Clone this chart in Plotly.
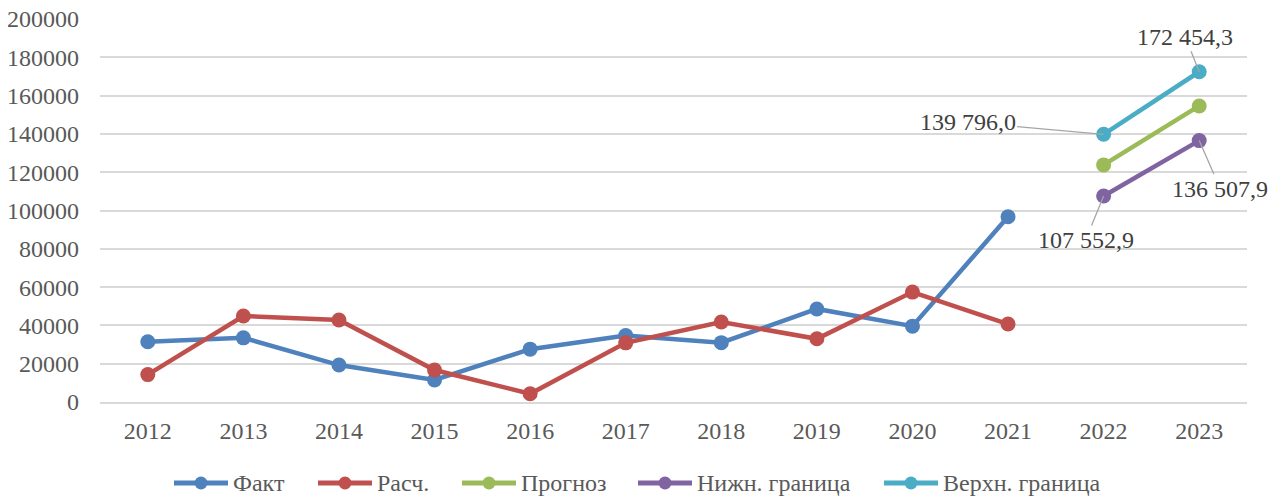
import plotly.graph_objects as go

years = ['2012', '2013', '2014', '2015', '2016', '2017', '2018', '2019', '2020', '2021', '2022', '2023']

fact = [31500, 33500, 19300, 11500, 27600, 34700, 31000, 48600, 39600, 96700, None, None]
calc = [14300, 44900, 42800, 16700, 4300, 30900, 41800, 33000, 57400, 40700, None, None]
forecast = [None] * 10 + [123800, 154600]
lower = [None] * 10 + [107552.9, 136507.9]
upper = [None] * 10 + [139796.0, 172454.3]

names = ['Факт', 'Расч.', 'Прогноз', 'Нижн. граница', 'Верхн. граница']
colors = ['#4F81BD', '#C0504D', '#9BBB59', '#8064A2', '#4BACC6']
values = [fact, calc, forecast, lower, upper]

FONT = 'Liberation Serif, Times New Roman, serif'

# размеры фигуры и поля (страница добавляет 8px отступа сверху и слева)
W, H = 1261, 490
L, R, T, B = 92, 22, 11, 96
PW, PH = W - L - R, H - T - B

fig = go.Figure()
for name, vals, col in zip(names, values, colors):
    fig.add_trace(go.Scatter(
        x=years, y=vals, name=name, mode='lines+markers',
        line=dict(color=col, width=4.5),
        marker=dict(color=col, size=15),
        connectgaps=False, showlegend=False,
    ))

def fmt(v):
    return f'{v:,.1f}'.replace(',', ' ').replace('.', ',')

# подписи с выносками: (индекс года, значение, смещение x, смещение y)
labels = [
    (11, upper[11], -14, -35),
    (10, upper[10], -136, -12),
    (11, lower[11], 21, 48),
    (10, lower[10], -18, 44),
]
for i, v, ax, ay in labels:
    fig.add_annotation(
        x=i, y=v, text=fmt(v), showarrow=True, arrowhead=0,
        arrowwidth=1.3, arrowcolor='#A6A6A6', ax=ax, ay=ay,
        font=dict(family=FONT, size=24, color='#404040'),
    )

# легенда вручную: центр значка (px от левого края области), длинная линия как в Excel
legend_px = [101, 245, 389, 565, 811]
legend_y = -81 / PH
for name, col, px in zip(names, colors, legend_px):
    xa = px / PW
    fig.add_shape(type='line', xref='paper', yref='paper', xsizemode='pixel', ysizemode='pixel',
                  xanchor=xa, yanchor=legend_y, x0=-27, x1=27, y0=0, y1=0,
                  line=dict(color=col, width=5))
    fig.add_shape(type='circle', xref='paper', yref='paper', xsizemode='pixel', ysizemode='pixel',
                  xanchor=xa, yanchor=legend_y, x0=-6.5, x1=6.5, y0=-6.5, y1=6.5,
                  fillcolor=col, line=dict(color=col, width=0))
    fig.add_annotation(x=(px + 30) / PW, y=legend_y, xref='paper', yref='paper',
                       text=name, showarrow=False, xanchor='left', yanchor='middle',
                       font=dict(family=FONT, size=24, color='#595959'))

fig.update_layout(
    width=W, height=H,
    paper_bgcolor='white', plot_bgcolor='white',
    margin=dict(l=L, r=R, t=T, b=B, autoexpand=False),
    font=dict(family=FONT, size=24, color='#595959'),
    showlegend=False,
)
fig.update_xaxes(type='category', range=[-0.5, 11.5], showgrid=False, showline=True,
                 linecolor='#D9D9D9', linewidth=1.5, ticks='', ticklabelstandoff=6,
                 automargin=False)
fig.update_yaxes(range=[0, 200000], dtick=20000, tickformat='d', showgrid=True,
                 gridcolor='#D9D9D9', gridwidth=1.5, zeroline=False, ticks='',
                 ticklabelstandoff=20, ticklabeloverflow='allow', automargin=False)

fig.write_html('out.html')
